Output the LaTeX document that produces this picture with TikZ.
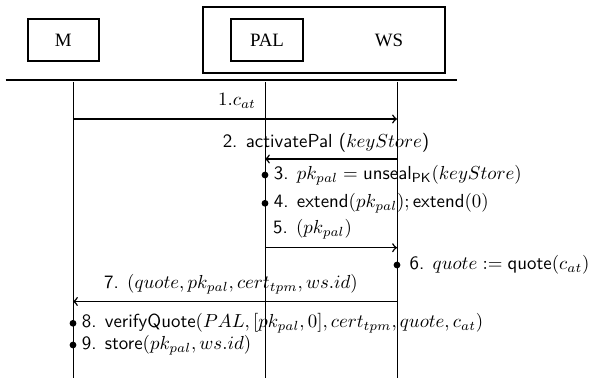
\documentclass[tikz,border=0pt]{standalone}
\usepackage{amsmath}
\usepackage{fontspec}
\newfontfamily\boxfont{Liberation Serif}
\usetikzlibrary{positioning}

\begin{document}
\begin{tikzpicture}[x=0.53pt, y=-0.53pt,
  actor/.style = {draw, very thick, minimum width=37.8pt, minimum height=22.3pt, font=\boxfont},
  life/.style = {line width=0.5pt},
  msg/.style = {->, thick},
  dot/.style = {circle, fill, inner sep=0pt, minimum size=3.6pt},
  lbl/.style = {font=\sffamily, inner sep=0pt}]
\useasboundingbox (0,0) rectangle (593,378);
\node[actor] (M) at (63.3,40) {M};
\node[draw, very thick, minimum width=128.4pt, minimum height=34.7pt] (host) at (323.9,40) {};
\node[actor] (PAL) at (267,40) {PAL};
\node[font=\boxfont] (WS) at (389,40) {WS};
\coordinate (ruleL) at (5.7,80);
\coordinate (ruleR) at (457,80);
\draw[very thick] (ruleL) -- (ruleR);
\coordinate (Mtop) at (73,82);
\coordinate (Mbot) at (73,378);
\coordinate (Ptop) at (265,82);
\coordinate (Pbot) at (265,378);
\coordinate (Wtop) at (397,82);
\coordinate (Wbot) at (397,378);
\draw[life] (Mtop) -- (Mbot);
\draw[life] (Ptop) -- (Pbot);
\draw[life] (Wtop) -- (Wbot);
\coordinate (m1) at (73,119);
\coordinate (w1) at (397,119);
\draw[msg] (m1) -- (w1);
\node[anchor=base, inner sep=0pt] (l1) at (237,105.5) {1.$c_{at}$};
\coordinate (w2) at (397,159);
\coordinate (p2) at (265,159);
\draw[msg] (w2) -- (p2);
\node[lbl, anchor=base] (l2) at (326,148) {2. activatePal ($keyStore$)};
\node[dot] (d3) at (265,175) {};
\node[lbl, right=2.5pt of d3] (l3) {3. $pk_{pal} = \textsf{unseal}_{\textsf{PK}}(keyStore)$};
\node[dot] (d4) at (265,203.3) {};
\node[lbl, right=2.5pt of d4] (l4) {4. $\textsf{extend}(pk_{pal}); \textsf{extend}(0)$};
\node[lbl, anchor=west] (l5) at (272.7,229.3) {5. $(pk_{pal})$};
\coordinate (p5) at (265,247.7);
\coordinate (w5) at (397,247.7);
\draw[msg] (p5) -- (w5);
\node[dot] (d6) at (397,265) {};
\node[lbl, right=4.5pt of d6] (l6) {6. $quote := \textsf{quote}(c_{at})$};
\node[lbl] (l7) at (231,284.4) {7. $(quote, pk_{pal}, cert_{tpm}, ws.id)$};
\coordinate (w7) at (397,301.5);
\coordinate (m7) at (73,301.5);
\draw[msg] (w7) -- (m7);
\node[dot] (d8) at (73,323.3) {};
\node[lbl, right=2.5pt of d8] (l8) {8. $\textsf{verifyQuote}(PAL, [pk_{pal}, 0], cert_{tpm}, quote, c_{at})$};
\node[dot] (d9) at (73,345) {};
\node[lbl, right=2.5pt of d9] (l9) {9. $\textsf{store}(pk_{pal}, ws.id)$};
\end{tikzpicture}
\end{document}
